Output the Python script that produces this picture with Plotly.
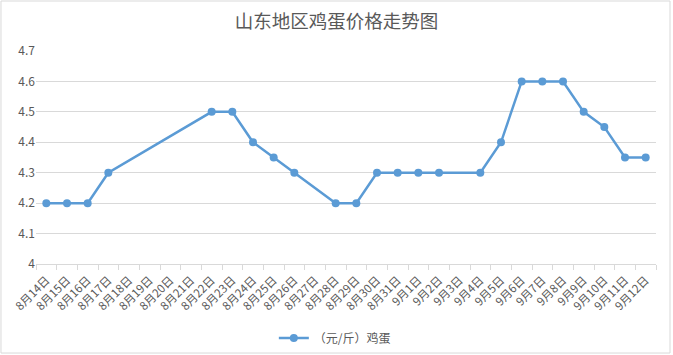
import plotly.graph_objects as go

dates = ["8月14日","8月15日","8月16日","8月17日","8月18日","8月19日","8月20日","8月21日",
         "8月22日","8月23日","8月24日","8月25日","8月26日","8月27日","8月28日","8月29日",
         "8月30日","8月31日","9月1日","9月2日","9月3日","9月4日","9月5日","9月6日",
         "9月7日","9月8日","9月9日","9月10日","9月11日","9月12日"]
prices = [4.2, 4.2, 4.2, 4.3, None, None, None, None,
          4.5, 4.5, 4.4, 4.35, 4.3, None, 4.2, 4.2,
          4.3, 4.3, 4.3, 4.3, None, 4.3, 4.4, 4.6,
          4.6, 4.6, 4.5, 4.45, 4.35, 4.35]
series_name = "（元/斤）鸡蛋"
title_text = "山东地区鸡蛋价格走势图"

txt = "#595959"
grid = "#d9d9d9"
font = "Noto Sans CJK SC, Microsoft YaHei, sans-serif"

fig = go.Figure()
fig.add_trace(go.Scatter(
    x=dates, y=prices, name=series_name, mode="lines+markers",
    connectgaps=True,
    line=dict(color="#5b9bd5", width=2.5),
    marker=dict(color="#5b9bd5", size=8),
))

fig.update_layout(
    width=673, height=355,
    margin=dict(l=36, r=17, t=51, b=91),
    paper_bgcolor="white", plot_bgcolor="white",
    font=dict(family=font, color=txt, size=11),
    title=dict(text=title_text, x=0.5, xanchor="center", y=0.938, yanchor="middle",
               font=dict(size=18.5, color=txt, family=font)),
    showlegend=True,
    legend=dict(orientation="h", x=0.482, xanchor="center", y=0.0479, yanchor="middle",
                yref="container",
                font=dict(size=12, color=txt), bgcolor="rgba(0,0,0,0)"),
    xaxis=dict(type="category", tickangle=-45, showgrid=False, automargin=False,
               showline=True, linecolor=grid, linewidth=1,
               ticks="outside", tickson="boundaries", ticklen=5, tickcolor=grid,
               ticklabelstandoff=4,
               tickfont=dict(size=11.5, color=txt), range=[-0.5, len(dates) - 0.5]),
    yaxis=dict(range=[4, 4.7], dtick=0.1, tick0=4, showgrid=True, gridcolor=grid,
               gridwidth=1, zeroline=False, showline=False, automargin=False,
               tickfont=dict(size=12, color=txt), tickformat=".1~f"),
    shapes=[dict(type="rect", xref="paper", yref="paper",
                 x0=-0.0565, x1=1.0226, y0=-0.418, y1=1.2347,
                 line=dict(color=grid, width=1), fillcolor="rgba(0,0,0,0)", layer="below")],
)

fig.write_html("out.html")
